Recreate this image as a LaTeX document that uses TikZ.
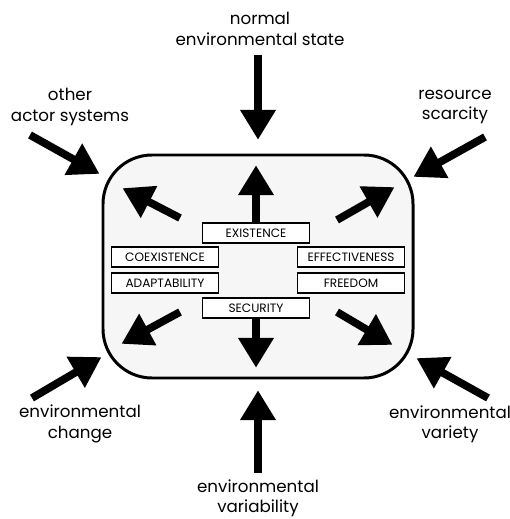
\documentclass[tikz,border=0pt]{standalone}
\usepackage{fontspec}
\setmainfont{Poppins}
\usetikzlibrary{arrows.meta}

\begin{document}
\begin{tikzpicture}[x=0.02cm, y=-0.02cm,
  lbl/.style={align=center, font=\fontsize{9.5}{11.5}\selectfont, inner sep=0pt},
  val/.style={draw, line width=0.9pt, fill=white, minimum width=2.14cm, minimum height=0.4cm, inner sep=0pt, font=\fontsize{6.9}{7}\selectfont},
  big/.style={line width=4.4pt, -{Triangle[length=0.6cm, width=0.68cm]}, shorten >=-1pt}]
\useasboundingbox (0,0) rectangle (509,519);
% actor system frame
\draw[line width=1.7pt, fill=gray!7, rounded corners=0.98cm] (103,155) rectangle (413,378);
% orientors
\node[val] (exist) at (256,233) {EXISTENCE};
\node[val] (coex) at (165,257) {COEXISTENCE};
\node[val] (adapt) at (165,283) {ADAPTABILITY};
\node[val] (effect) at (351,257) {EFFECTIVENESS};
\node[val] (free) at (351,283) {FREEDOM};
\node[val] (secur) at (256,308) {SECURITY};
% environmental properties
\node[lbl] (normal) at (260,29) {normal\\environmental state};
\node[lbl] (other) at (70,107) {other\\actor systems};
\node[lbl] (scarce) at (455,107) {resource\\scarcity};
\node[lbl] (change) at (80,424) {environmental\\change};
\node[lbl] (variety) at (450,424) {environmental\\variety};
\node[lbl] (variab) at (258,498) {environmental\\variability};
% arrow ends
\coordinate (n1) at (258,55);  \coordinate (n2) at (258,138);
\coordinate (o1) at (30,135);  \coordinate (o2) at (98,173);
\coordinate (s1) at (485,137); \coordinate (s2) at (415,176);
\coordinate (c1) at (32,398);  \coordinate (c2) at (100,358);
\coordinate (v1) at (488,398); \coordinate (v2) at (418,359);
\coordinate (b1) at (258,473); \coordinate (b2) at (258,392);
\coordinate (up) at (256,167);
\coordinate (dn) at (256,366);
\coordinate (ul1) at (180,218); \coordinate (ul2) at (124,189);
\coordinate (ur1) at (337,220); \coordinate (ur2) at (393,188);
\coordinate (dl1) at (180,312); \coordinate (dl2) at (123,343);
\coordinate (dr1) at (337,312); \coordinate (dr2) at (391,344);
% impacts from outside
\draw[big] (n1) -- (n2);
\draw[big] (o1) -- (o2);
\draw[big] (s1) -- (s2);
\draw[big] (c1) -- (c2);
\draw[big] (v1) -- (v2);
\draw[big] (b1) -- (b2);
% responses from inside
\draw[big] (exist.north) -- (up);
\draw[big] (secur.south) -- (dn);
\draw[big] (ul1) -- (ul2);
\draw[big] (ur1) -- (ur2);
\draw[big] (dl1) -- (dl2);
\draw[big] (dr1) -- (dr2);
\end{tikzpicture}
\end{document}
